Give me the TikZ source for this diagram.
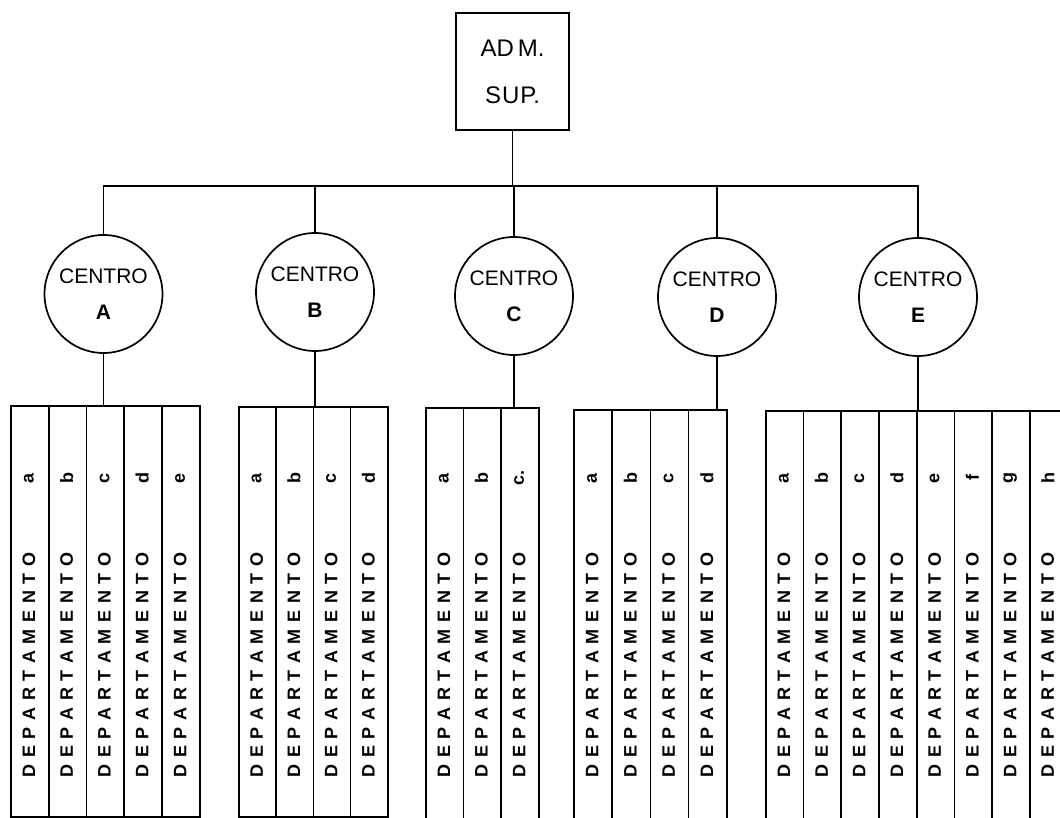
\documentclass[tikz,border=0pt]{standalone}
\usepackage{fontspec}
\setmainfont{Liberation Sans}
\makeatletter
\newcommand\spacedtext[2]{\def\st@first{1}\@tfor\st@c:=#2\do{\ifnum\st@first=1 \def\st@first{0}\else\kern#1\fi\st@c}}
\makeatother
\newcommand\deptgroup[6]{%
  \foreach \l [count=\i] in {#6} {
    \node[colbox, minimum width=#3pt, minimum height=#5pt] (#1\i) at ({#2+(\i-1)*#3}, #4) {};
    \node[dtxt] (#1w\i) at ({#2+(\i-0.5)*#3}, 665) {\spacedtext{6.6pt}{DEPARTAMENTO}};
    \node[dtxt] (#1l\i) at ({#2+(\i-0.5)*#3}, 478) {\l};
  }}
\begin{document}
\begin{tikzpicture}[x=1pt,y=-1pt,line width=1.7pt,
  admbox/.style={draw,line width=1.5pt,minimum width=113pt,minimum height=117pt,inner sep=0pt,align=center,font=\fontsize{24}{47}\selectfont},
  centro/.style={draw,circle,minimum size=118pt,inner sep=0pt,align=center,font=\fontsize{21}{36}\selectfont},
  colbox/.style={draw,inner sep=0pt,anchor=north west},
  dtxt/.style={rotate=90,inner sep=0pt,font=\bfseries\fontsize{18}{18}\selectfont}
]
\useasboundingbox (0,0) rectangle (1060,818);
\clip (0,0) rectangle (1060,818);

\node[admbox] (adm) at (512.5,71.5) {AD\kern4pt M.\\S\kern1pt U\kern1pt P.};
\coordinate (bus) at (512.5,186);

\node[centro] (cA) at (103.5,294) {CENTRO\\\textbf{A}};
\node[centro] (cB) at (315,292) {CENTRO\\\textbf{B}};
\node[centro] (cC) at (514,296) {CENTRO\\\textbf{C}};
\node[centro] (cD) at (717,297) {CENTRO\\\textbf{D}};
\node[centro] (cE) at (918,297) {CENTRO\\\textbf{E}};

\deptgroup{A}{10}{37.8}{405}{411}{a,b,c,d,e}
\deptgroup{B}{238}{37.25}{406}{410}{a,b,c,d}
\deptgroup{C}{425}{37.67}{407}{420}{a,b,c.}
\deptgroup{D}{573}{38.25}{409}{420}{a,b,c,d}
\deptgroup{E}{765}{37.7}{410}{420}{a,b,c,d,e,f,g,h}

\draw (adm.south) -- (bus);
\draw (cA.north) -- (cA.north |- bus) -- (cE.north |- bus) -- (cE.north);
\foreach \c in {cB,cC,cD} \draw (\c.north) -- (\c.north |- bus);

\draw (cA.south) -- (cA.south |- A1.north);
\draw (cB.south) -- (cB.south |- B1.north);
\draw (cC.south) -- (cC.south |- C1.north);
\draw (cD.south) -- (cD.south |- D1.north);
\draw (cE.south) -- (cE.south |- E1.north);
\end{tikzpicture}
\end{document}
